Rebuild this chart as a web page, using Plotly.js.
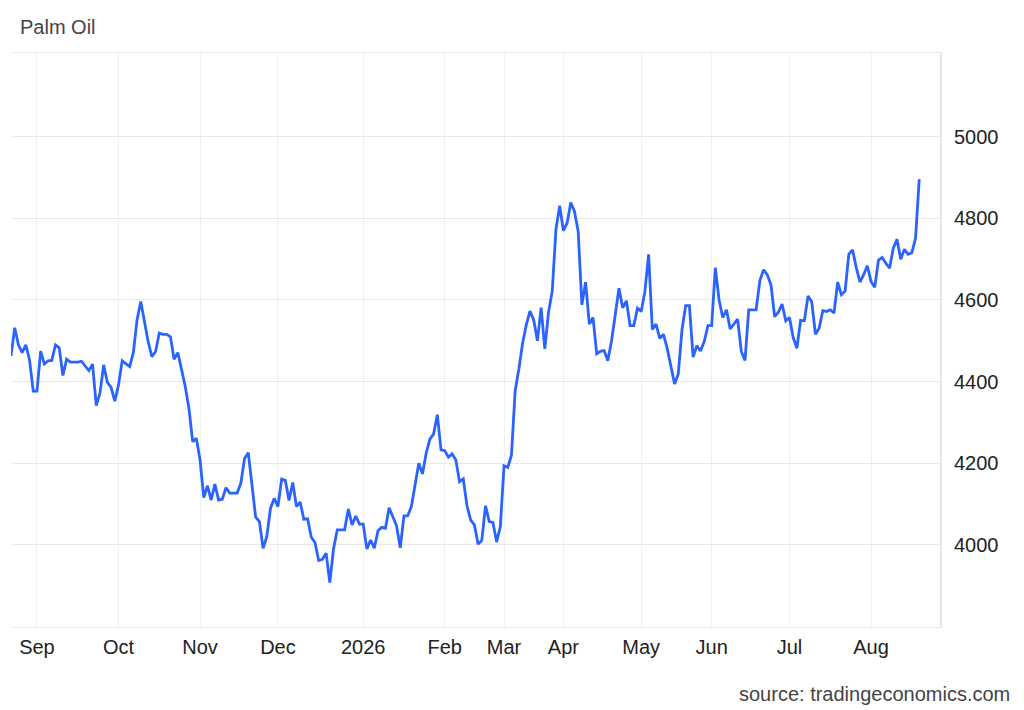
<!DOCTYPE html>
<html>
<head>
<meta charset="utf-8">
<script src="https://cdn.plot.ly/plotly-3.0.1.min.js"></script>
<style>html,body{margin:0;padding:0;background:#fff;}#chart{width:1024px;height:710px;}</style>
</head>
<body>
<div id="chart"></div>
<script>
// Daily Palm Oil prices (trading days)
const prices = [
  4463,4532,4490,4471,4490,4453,4377,4377,4475,4443,4451,4452,4490,4483,4415,4455,4448,4448,4448,4450,
  4439,4427,4443,4341,4372,4441,4398,4386,4352,4392,4451,4443,4437,4471,4551,4596,4547,4498,4461,4474,
  4519,4516,4516,4510,4455,4471,4430,4388,4335,4253,4261,4208,4116,4145,4110,4149,4110,4112,4140,4127,
  4127,4127,4151,4212,4226,4151,4068,4057,3992,4020,4090,4114,4094,4161,4158,4109,4153,4094,4105,4063,
  4064,4019,4006,3962,3965,3980,3908,3990,4037,4037,4037,4088,4049,4071,4051,4051,3990,4012,3992,4035,
  4043,4041,4091,4069,4047,3993,4071,4071,4094,4147,4200,4174,4225,4259,4272,4319,4233,4231,4215,4223,
  4208,4155,4162,4096,4061,4049,4002,4011,4096,4057,4055,4007,4045,4194,4190,4220,4378,4431,4494,4539,
  4573,4551,4500,4581,4480,4570,4622,4773,4831,4770,4788,4839,4817,4768,4588,4644,4541,4557,4468,4474,
  4476,4451,4500,4564,4629,4581,4598,4537,4537,4580,4572,4621,4712,4528,4541,4506,4516,4482,4437,4394,
  4419,4527,4586,4586,4460,4488,4475,4498,4537,4537,4679,4600,4557,4576,4529,4541,4553,4474,4452,4576,
  4576,4576,4647,4674,4662,4637,4559,4570,4590,4549,4557,4508,4482,4550,4549,4610,4596,4516,4531,4574,
  4572,4576,4568,4644,4613,4622,4712,4723,4680,4644,4662,4684,4645,4631,4698,4704,4690,4678,4727,4749,
  4700,4724,4712,4716,4751,4896
];
// index of the first trading day of each month, and its label
const monthStarts = [7, 29, 51, 72, 95, 117, 133, 149, 170, 189, 210, 232];
const monthLabels = ['Sep','Oct','Nov','Dec','2026','Feb','Mar','Apr','May','Jun','Jul','Aug'];
const yTicks = [4000, 4200, 4400, 4600, 4800, 5000];

const idx = prices.map((_, i) => i);

const trace = {
  x: idx,
  y: prices,
  type: 'scatter',
  mode: 'lines',
  line: {color: '#2b63ff', width: 2.8},
  hoverinfo: 'y'
};

const FAM = 'Liberation Sans, Arial, sans-serif';
const font = {family: FAM, size: 20, color: '#222'};

const layout = {
  width: 1024,
  height: 710,
  margin: {l: 11, r: 84, t: 53, b: 83},
  paper_bgcolor: '#fff',
  plot_bgcolor: '#fff',
  showlegend: false,
  font: font,
  title: {
    text: 'Palm Oil',
    font: {family: FAM, size: 20, color: '#444'},
    x: 20/1024, xref: 'container', xanchor: 'left',
    y: 1 - 27/710, yref: 'container', yanchor: 'middle'
  },
  xaxis: {
    range: [0, 250.6],
    tickmode: 'array',
    tickvals: monthStarts,
    ticktext: monthLabels,
    showgrid: true,
    gridcolor: '#edf1f5',
    gridwidth: 1,
    zeroline: false,
    showline: true,
    mirror: true,
    linecolor: '#e6e6e6',
    linewidth: 1,
    ticks: '',
    tickfont: font,
    ticklabelstandoff: 2,
    fixedrange: true
  },
  yaxis: {
    side: 'right',
    range: [3799, 5205],
    tickmode: 'array',
    tickvals: yTicks,
    ticktext: yTicks.map(String),
    showgrid: true,
    gridcolor: '#e8e8e8',
    gridwidth: 1,
    zeroline: false,
    showline: true,
    linecolor: '#e6e6e6',
    linewidth: 2,
    ticks: '',
    tickfont: font,
    ticklabelstandoff: 8,
    fixedrange: true
  },
  annotations: [{
    text: 'source: tradingeconomics.com',
    xref: 'paper', yref: 'paper',
    x: 1, y: 0, xanchor: 'right', yanchor: 'middle',
    xshift: 72, yshift: -67,
    showarrow: false,
    font: {family: FAM, size: 20, color: '#444'}
  }]
};

Plotly.newPlot('chart', [trace], layout, {displayModeBar: false, staticPlot: true});
</script>
</body>
</html>
